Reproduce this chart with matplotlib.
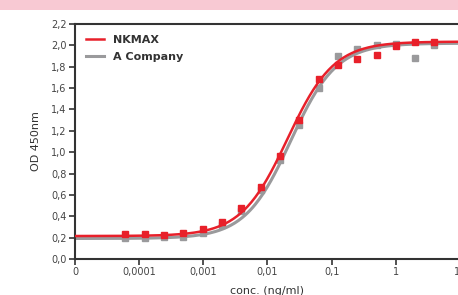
import numpy as np
import matplotlib
matplotlib.use("Agg")
import matplotlib.pyplot as plt
from matplotlib.patches import Rectangle

# concentrations (ng/ml), 2-fold serial dilution
conc = [6.1e-5, 1.22e-4, 2.44e-4, 4.88e-4, 9.77e-4, 1.95e-3, 3.91e-3, 7.81e-3,
        0.0156, 0.03125, 0.0625, 0.125, 0.25, 0.5, 1, 2, 4]

nkmax_od = [0.231, 0.231, 0.225, 0.240, 0.284, 0.343, 0.480, 0.671,
            0.962, 1.299, 1.683, 1.816, 1.873, 1.910, 1.997, 2.035, 2.029]
acomp_od = [0.194, 0.194, 0.203, 0.203, 0.246, 0.316, 0.452, 0.646,
            0.927, 1.255, 1.598, 1.900, 1.966, 2.004, 2.010, 1.879, 2.004]

# 4PL fit parameters (bottom, top, EC50, hill) estimated from the drawn curves
nkmax_fit = (0.215, 2.035, 0.0205, 1.2)
acomp_fit = (0.192, 2.02, 0.023, 1.22)

tick_vals = [1e-5, 1e-4, 1e-3, 1e-2, 1e-1, 1, 10]
tick_labels = ["0", "0,0001", "0,001", "0,01", "0,1", "1", "10"]
ytick_vals = [0.0, 0.2, 0.4, 0.6, 0.8, 1.0, 1.2, 1.4, 1.6, 1.8, 2.0, 2.2]

RED = "#e8202a"
GRAY = "#9a9a9c"

plt.rcParams['font.family'] = ['Liberation Sans Narrow', 'DejaVu Sans']


def four_pl(x, p):
    b, t, ec, h = p
    return b + (t - b) / (1 + (ec / x) ** h)


fig = plt.figure(figsize=(4.58, 2.95), dpi=100)
fig.patches.append(Rectangle((0, 1 - 10 / 295), 1, 10 / 295, transform=fig.transFigure,
                             facecolor="#f8c9d3", edgecolor="none"))

ax = fig.add_axes([75 / 458, 36 / 295, 385 / 458, 235 / 295])

xs = np.logspace(-5, 1, 300)
ax.plot(xs, four_pl(xs, acomp_fit), color=GRAY, lw=2.2, label="A Company", zorder=2)
ax.plot(conc, acomp_od, "s", color=GRAY, ms=5, zorder=3)
ax.plot(xs, four_pl(xs, nkmax_fit), color=RED, lw=1.8, label="NKMAX", zorder=4)
ax.plot(conc, nkmax_od, "s", color=RED, ms=5, zorder=5)

ax.set_xscale("log")
ax.set_xlim(1e-5, 10)
ax.set_ylim(0, 2.2)
ax.set_xticks(tick_vals)
ax.set_xticklabels(tick_labels)
ax.minorticks_off()
ax.set_yticks(ytick_vals)
ax.set_yticklabels([("%.1f" % v).replace(".", ",") for v in ytick_vals])
ax.tick_params(labelsize=7, length=4, width=1.2, color="#333333", labelcolor="#444444", pad=2)

for s in ["left", "bottom", "top"]:
    ax.spines[s].set_color("#333333")
    ax.spines[s].set_linewidth(1.5)
ax.spines["right"].set_visible(False)

ax.set_ylabel("OD 450nm", fontsize=8, color="#333333", labelpad=7)
ax.set_xlabel("conc. (ng/ml)", fontsize=8, color="#333333", labelpad=6)

handles, labels = ax.get_legend_handles_labels()
leg = ax.legend(handles[::-1], labels[::-1], loc="upper left", frameon=False,
                handlelength=1.6, borderaxespad=0.6, labelspacing=0.6,
                prop={"weight": "bold", "size": 8})
for t in leg.get_texts():
    t.set_color("#333333")

fig.savefig("out.png", dpi=100)
